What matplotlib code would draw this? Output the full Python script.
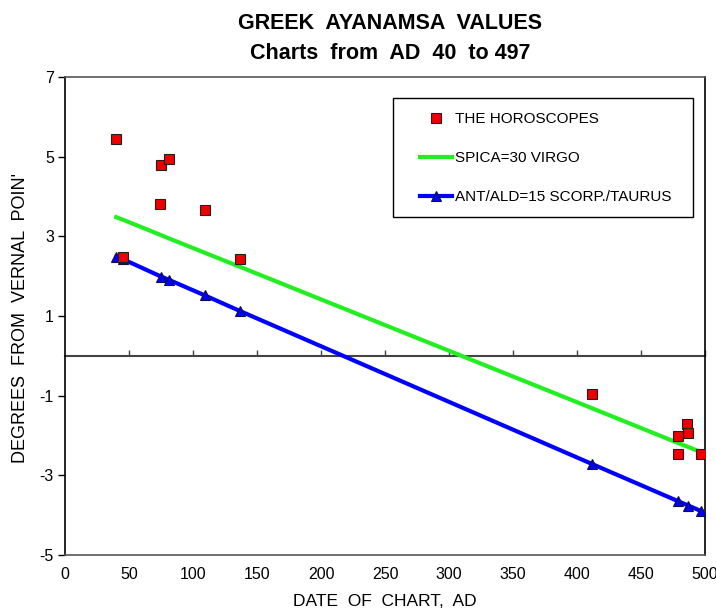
"""
Greek ayanamsa values, charts from AD 40 to 497.
"""

import matplotlib
matplotlib.use('Agg')
import matplotlib.pyplot as plt
from matplotlib.patches import Rectangle

plt.rcParams['font.family'] = ['Liberation Sans', 'DejaVu Sans']
plt.rcParams['axes.unicode_minus'] = False

# %%
# Data
# -----------------------

# dates of the horoscopes (AD) and their ayanamsa values
horo_dates = [40, 45, 74, 75, 81, 109, 137, 412, 479, 479, 486, 487, 497]
horo_values = [5.45, 2.48, 3.81, 4.8, 4.94, 3.66, 2.43, -0.96, -2.02, -2.47, -1.72, -1.94, -2.47]

# reference lines at the same dates
line_dates = [40, 45, 75, 81, 109, 137, 412, 479, 487, 497]
spica_values = [3.48, 3.42, 3.03, 2.95, 2.59, 2.23, -1.32, -2.19, -2.29, -2.42]
antald_values = [2.48, 2.43, 1.99, 1.91, 1.52, 1.12, -2.72, -3.65, -3.76, -3.90]

xticks = list(range(0, 501, 50))
yticks = [7, 5, 3, 1, -1, -3, -5]

# %%
# Plot
# ----

fig = plt.figure(figsize=(7.16, 6.15), dpi=100)
ax = fig.add_axes([0.0908, 0.0976, 0.8939, 0.7772])

ax.plot(line_dates, spica_values, color='#22ee22', lw=3, zorder=2,
        label='SPICA=30 VIRGO')
ax.plot(line_dates, antald_values, color='#0000ff', lw=3, marker='^', ms=7,
        mfc='#0000ff', mec='#101040', mew=0.8, zorder=3,
        label='ANT/ALD=15 SCORP./TAURUS')
ax.plot(horo_dates, horo_values, ls='none', marker='s', ms=7, mfc='#ee0000',
        mec='#202020', mew=0.8, zorder=4, label='THE HOROSCOPES')

ax.set_xlim(0, 500)
ax.set_ylim(-5, 7)
ax.set_xticks(xticks)
ax.set_yticks(yticks)
ax.tick_params(axis='x', length=0, pad=9, labelsize=11.5)
ax.tick_params(axis='y', length=5, width=1, pad=3, labelsize=11.5)

for side in ['left', 'right']:
    ax.spines[side].set_color('black')
for side in ['top', 'bottom']:
    ax.spines[side].set_color('#555555')
for s in ax.spines.values():
    s.set_linewidth(1.2)

# zero line with small upward ticks
zero = ax.secondary_xaxis(5 / 12)
zero.set_xticks(xticks[1:])
zero.tick_params(axis='x', direction='in', length=4, width=1, labelbottom=False,
                 labeltop=False, color='#444444')
zero.spines['bottom'].set_color('#444444')
zero.spines['bottom'].set_linewidth(1.5)
zero.spines['top'].set_color('#444444')
zero.spines['top'].set_linewidth(1.5)

ax.set_xlabel('DATE  OF  CHART,  AD', fontsize=12.5, labelpad=8)
ax.set_ylabel('DEGREES  FROM  VERNAL  POIN\'', fontsize=13)
ax.yaxis.set_label_coords(-0.056, 0.495)

fig.text(0.545, 0.962, 'GREEK  AYANAMSA  VALUES', ha='center', va='center',
         fontsize=15.5, fontweight='bold')
fig.text(0.545, 0.913, 'Charts  from  AD  40  to 497', ha='center', va='center',
         fontsize=15.5, fontweight='bold')

# legend frame drawn separately so the inner padding can differ per side
ax.add_patch(Rectangle((0.5125, 0.707), 0.4685, 0.249, transform=ax.transAxes,
                       fill=True, facecolor='white', edgecolor='black', lw=1.0,
                       zorder=5))
handles, labels = ax.get_legend_handles_labels()
order = [2, 0, 1]
leg = ax.legend([handles[i] for i in order], [labels[i] for i in order],
                loc='upper left', bbox_to_anchor=(0.5547, 0.927),
                fontsize=11, handlelength=2.1, handletextpad=0.2,
                labelspacing=1.65, borderpad=0, frameon=False,
                borderaxespad=0)
leg.set_zorder(6)

fig.savefig('out.png', dpi=100)
